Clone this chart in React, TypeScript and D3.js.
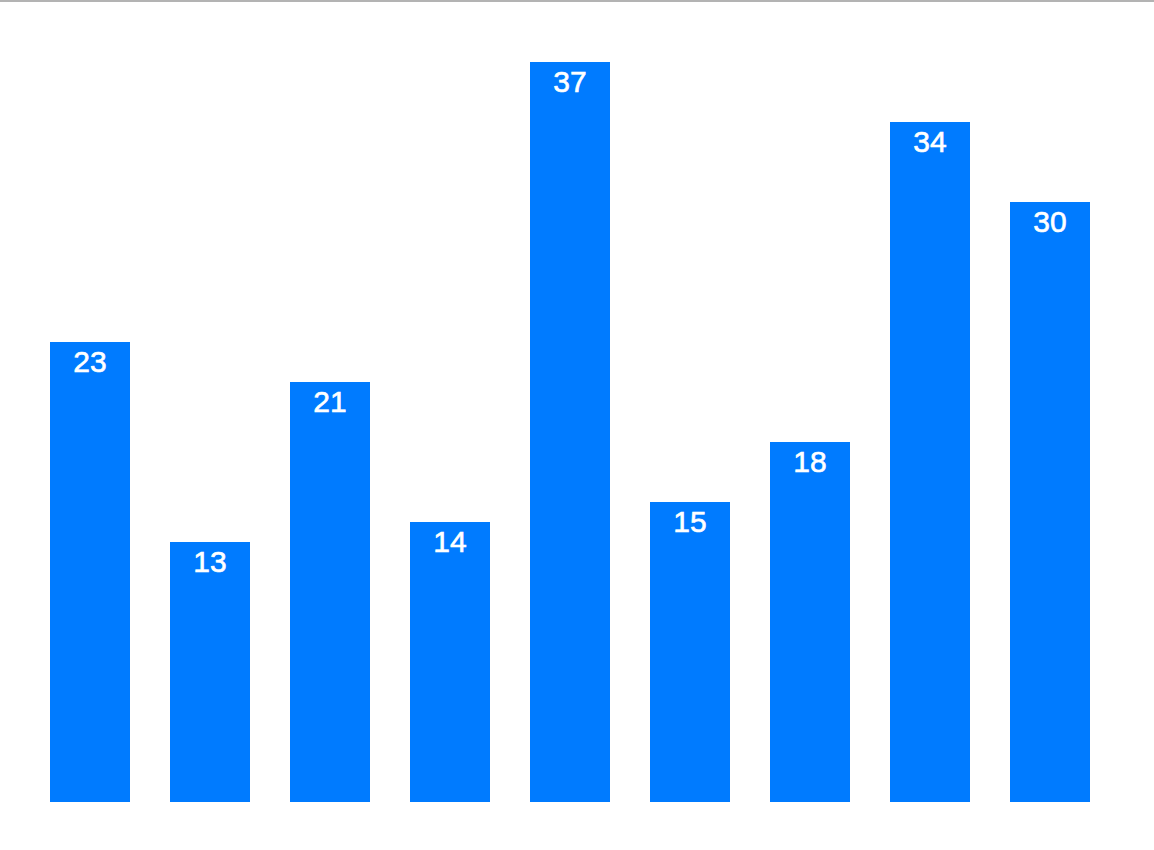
import { useEffect, useRef } from "react";
import * as d3 from "d3";

const VALUES = [23, 13, 21, 14, 37, 15, 18, 34, 30];
const Y_MAX = 40;

const WIDTH = 1154;
const HEIGHT = 850;

export default function App() {
  const svgRef = useRef<SVGSVGElement>(null);

  useEffect(() => {
    if (!svgRef.current) return;
    const svg = d3.select(svgRef.current);
    svg.selectAll("*").remove();

    const x = d3
      .scaleBand<number>()
      .domain(VALUES.map((_, i) => i))
      .range([30, 1110])
      .paddingInner(1 / 3)
      .paddingOuter(1 / 6);

    const y = d3.scaleLinear().domain([0, Y_MAX]).range([802, 2]);

    // top rule
    svg
      .append("rect")
      .attr("x", 0)
      .attr("y", 0)
      .attr("width", WIDTH)
      .attr("height", 2)
      .attr("fill", "#b3b3b3");

    const g = svg.append("g");

    g.selectAll("rect.bar")
      .data(VALUES)
      .join("rect")
      .attr("class", "bar")
      .attr("x", (_, i) => x(i)!)
      .attr("y", (d) => y(d))
      .attr("width", x.bandwidth())
      .attr("height", (d) => y(0) - y(d))
      .attr("fill", "#007bff");

    // value labels inside bar tops
    g.selectAll("text.label")
      .data(VALUES)
      .join("text")
      .attr("class", "label")
      .attr("x", (_, i) => x(i)! + x.bandwidth() / 2)
      .attr("y", (d) => y(d) + 29.5)
      .attr("text-anchor", "middle")
      .attr("fill", "#ffffff")
      .attr("stroke", "#ffffff")
      .attr("stroke-width", 0.6)
      .attr("font-size", "30px")
      .attr("font-family", "'Liberation Sans', Arial, Helvetica, sans-serif")
      .text((d) => String(d));
  }, []);

  return (
    <svg
      ref={svgRef}
      width={WIDTH}
      height={HEIGHT}
      style={{ position: "absolute", top: 0, left: 0, display: "block" }}
    />
  );
}
